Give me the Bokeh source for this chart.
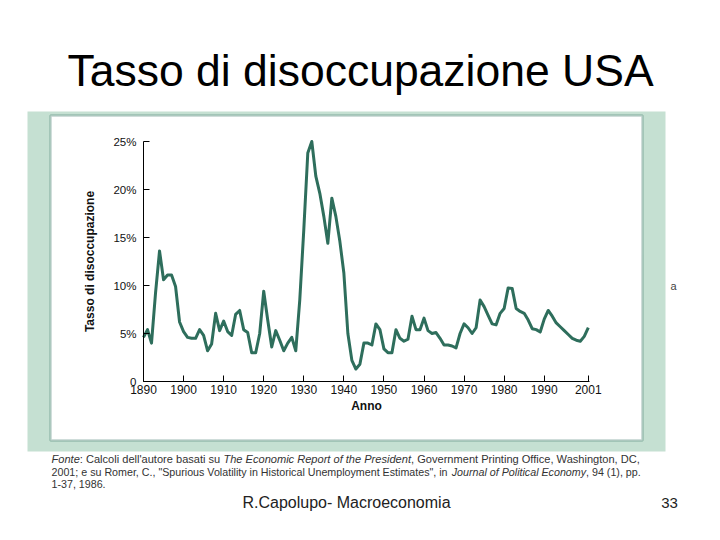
from bokeh.plotting import figure
from bokeh.models import Range1d, FixedTicker, BoxAnnotation, Label
from bokeh.embed import file_html
from bokeh.resources import INLINE

# ---------------- data ----------------
years = list(range(1890, 2002))
unemployment = [
    4.6, 5.4, 4.0, 9.2, 13.6, 10.6, 11.1, 11.1, 9.9, 6.2,      # 1890-1899
    5.2, 4.6, 4.5, 4.5, 5.4, 4.8, 3.2, 3.9, 7.1, 5.3,          # 1900-1909
    6.3, 5.2, 4.8, 7.0, 7.4, 5.4, 5.1, 3.0, 3.0, 5.0,          # 1910-1919
    9.4, 6.4, 3.6, 5.3, 4.3, 3.2, 4.0, 4.6, 3.2, 8.5,          # 1920-1929
    15.8, 23.8, 25.0, 21.4, 19.6, 17.2, 14.4, 19.1, 17.2, 14.6,  # 1930-1939
    11.3, 5.0, 2.2, 1.3, 1.8, 4.0, 4.0, 3.8, 6.0, 5.4,         # 1940-1949
    3.4, 3.0, 3.0, 5.4, 4.5, 4.2, 4.4, 6.8, 5.4, 5.4,          # 1950-1959
    6.6, 5.3, 5.0, 5.1, 4.5, 3.8, 3.8, 3.7, 3.5, 5.0,          # 1960-1969
    6.0, 5.6, 5.0, 5.6, 8.5, 7.8, 6.9, 6.0, 5.9, 7.1,          # 1970-1979
    7.6, 9.75, 9.7, 7.6, 7.3, 7.1, 6.4, 5.5, 5.4, 5.15,        # 1980-1989
    6.5, 7.4, 6.8, 6.1, 5.7, 5.3, 4.9, 4.5, 4.3, 4.2,          # 1990-1999
    4.7, 5.6,                                                  # 2000-2001
]
x_ticks = [1890, 1900, 1910, 1920, 1930, 1940, 1950, 1960, 1970, 1980, 1990, 2001]
y_ticks = [0, 5, 10, 15, 20, 25]
y_tick_labels = ["0", "5%", "10%", "15%", "20%", "25%"]

title_text = "Tasso di disoccupazione USA"
y_title = "Tasso di disoccupazione"
x_title = "Anno"
source_lines = [
    [("Fonte", True), (": Calcoli dell'autore basati su ", False),
     ("The Economic Report of the President", True),
     (", Government Printing Office, Washington, DC,", False)],
    [("2001; e su Romer, C., \"Spurious Volatility in Historical Unemployment Estimates\", in ", False),
     ("Journal of Political Economy", True), (", 94 (1), pp.", False)],
    [("1-37, 1986.", False)],
]
footer_text = "R.Capolupo- Macroeconomia"
page_number = "33"

# ---------------- layout constants (page pixels) ----------------
W, H = 720, 540
FL, FR, FT, FB = 143, 589, 141, 381      # where the chart's axes sit on the page
X0, X1 = 1890, 2001.3
Y0, Y1 = 0, 25
PX_X = (FR - FL) / (X1 - X0)
PX_Y = (FB - FT) / (Y1 - Y0)

LINE_COLOR = "#2e6e5c"
PANEL_COLOR = "#c5e0d2"
FONT = "Liberation Sans"

# Arial / Liberation Sans advance widths (1/1000 em)
_W = {" ": 278, "!": 278, '"': 355, "%": 889, "'": 191, "(": 333, ")": 333,
      ",": 278, "-": 333, ".": 278, "/": 278, ":": 278, ";": 278}
for ch in "0123456789":
    _W[ch] = 556
for ch, w in zip("ABCDEFGHIJKLMNOPQRSTUVWXYZ",
                 [667, 667, 722, 722, 667, 611, 778, 722, 278, 500, 667, 556, 833,
                  722, 778, 667, 778, 722, 667, 611, 722, 667, 944, 667, 667, 611]):
    _W[ch] = w
for ch, w in zip("abcdefghijklmnopqrstuvwxyz",
                 [556, 556, 500, 556, 556, 278, 556, 556, 222, 222, 500, 222, 833,
                  556, 556, 556, 556, 333, 500, 278, 556, 500, 722, 500, 500, 500]):
    _W[ch] = w


def em_width(s):
    return sum(_W.get(c, 556) for c in s) / 1000.0


p = figure(width=W, height=H, output_backend="svg", toolbar_location=None, title=None,
           x_range=Range1d(X0 - FL / PX_X, X0 + (W - FL) / PX_X),
           y_range=Range1d(Y0 - (H - FB) / PX_Y, Y0 + FB / PX_Y),
           min_border=0, min_border_left=0, min_border_right=0,
           min_border_top=0, min_border_bottom=0)
p.extra_x_ranges = {"page": Range1d(0, W)}
p.extra_y_ranges = {"page": Range1d(H, 0)}
p.outline_line_color = None
p.background_fill_color = "white"
p.border_fill_color = "white"
p.xgrid.grid_line_color = None
p.ygrid.grid_line_color = None

PG = dict(x_range_name="page", y_range_name="page")

# background panels
p.add_layout(BoxAnnotation(left=27, right=665, top=111, bottom=451,
                           fill_color=PANEL_COLOR, fill_alpha=1.0, line_color=None,
                           level="underlay", **PG))
p.add_layout(BoxAnnotation(left=50, right=642, top=115, bottom=440,
                           fill_color="white", fill_alpha=1.0, line_color=LINE_COLOR,
                           line_width=2.5, level="underlay", **PG))

# the series
p.line(years, unemployment, line_color=LINE_COLOR, line_width=3, line_join="round")

# axes (drawn inside the page at the data origin)
p.xaxis.fixed_location = Y0
p.yaxis.fixed_location = X0
p.xaxis.bounds = (X0, X1)
p.yaxis.bounds = (Y0, Y1)
for ax in (p.xaxis[0], p.yaxis[0]):
    ax.axis_line_color = "black"
    ax.axis_line_width = 1
    ax.major_tick_line_color = "black"
    ax.major_tick_in = 6
    ax.major_tick_out = 0
    ax.minor_tick_line_color = None
    ax.major_label_text_font = FONT
    ax.major_label_text_color = "#111111"
    ax.axis_label_text_font = FONT
    ax.axis_label_text_font_size = "12px"
    ax.axis_label_text_font_style = "bold"
    ax.axis_label_text_color = "#111111"

p.xaxis.ticker = FixedTicker(ticks=x_ticks)
p.xaxis.major_label_overrides = {t: str(t) for t in x_ticks}
p.xaxis.axis_label = x_title
p.xaxis.major_label_text_font_size = "12px"
p.xaxis.major_label_standoff = 3
p.xaxis.axis_label_standoff = 2

p.yaxis.ticker = FixedTicker(ticks=y_ticks)
p.yaxis.major_label_overrides = dict(zip(y_ticks, y_tick_labels))
p.yaxis.axis_label = y_title
p.yaxis.major_label_text_font_size = "11.5px"
p.yaxis.major_label_standoff = 7
p.yaxis.axis_label_standoff = 13

# slide title
p.add_layout(Label(x=360, y=70, text=title_text, text_align="center",
                   text_baseline="alphabetic", text_font=FONT, text_font_size="44.5px",
                   text_color="black", **PG))

# source note (mixed roman / italic), each line fitted to the panel width
baselines = [458, 471, 483]
fit_width = 589.0
size_1 = round(fit_width / sum(em_width(t) for t, _ in source_lines[0]), 2)
size_2 = round(fit_width / sum(em_width(t) for t, _ in source_lines[1]), 2)
sizes = [size_1, size_2, size_2]
for segs, base, fs in zip(source_lines, baselines, sizes):
    cur = 51.0
    for txt, ital in segs:
        p.add_layout(Label(x=cur, y=base, text=txt, text_align="left",
                           text_baseline="alphabetic", text_font=FONT,
                           text_font_size=f"{fs}px",
                           text_font_style="italic" if ital else "normal",
                           text_color="#333333", **PG))
        cur += em_width(txt) * fs

# stray letter at the right of the panel
p.add_layout(Label(x=673, y=285, text="a", text_align="center",
                   text_baseline="alphabetic", text_font=FONT, text_font_size="11px",
                   text_color="#444444", **PG))

# footer
p.add_layout(Label(x=346, y=502, text=footer_text, text_align="center",
                   text_baseline="alphabetic", text_font=FONT, text_font_size="16px",
                   text_color="#222222", **PG))
p.add_layout(Label(x=669, y=502, text=page_number, text_align="center",
                   text_baseline="alphabetic", text_font=FONT, text_font_size="15px",
                   text_color="#222222", **PG))

open("out.html", "w").write(file_html(p, INLINE))
